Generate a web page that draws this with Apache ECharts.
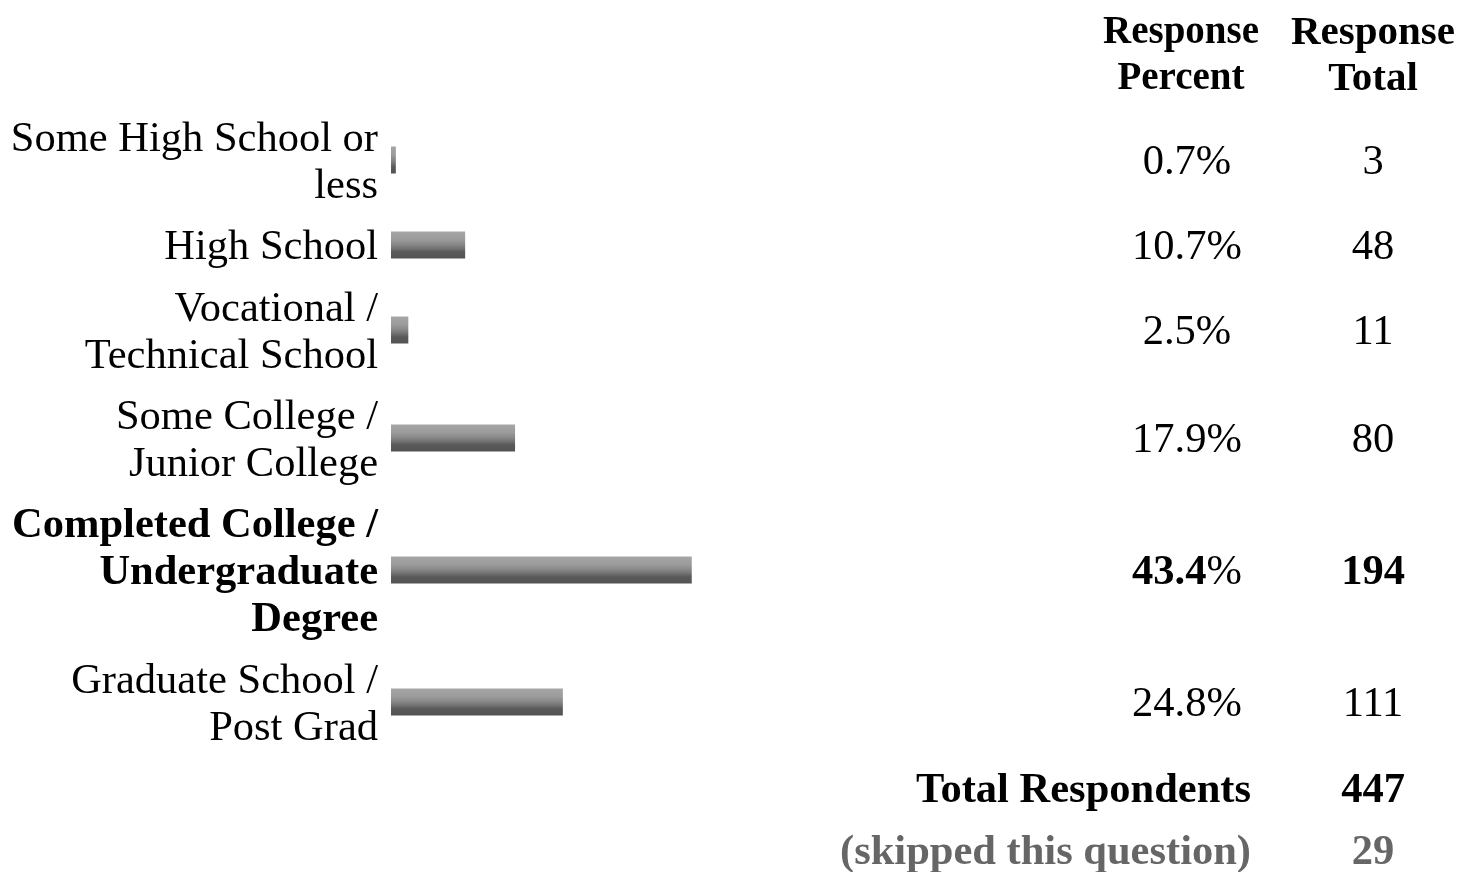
<!DOCTYPE html>
<html>
<head>
<meta charset="utf-8">
<title>Education level</title>
<script src="https://cdn.jsdelivr.net/npm/echarts@6/dist/echarts.min.js"></script>
<style>
  html, body { margin: 0; padding: 0; background: #fff; }
  #chart { width: 1463px; height: 872px; }
</style>
</head>
<body>
<div id="chart"></div>
<script>
// Answer options, shares and counts
const categories = [
  'Some High School or\nless',
  'High School',
  'Vocational /\nTechnical School',
  'Some College /\nJunior College',
  'Completed College /\nUndergraduate\nDegree',
  'Graduate School /\nPost Grad'
];
const percentValues = [0.7, 10.7, 2.5, 17.9, 43.4, 24.8];
const totalValues = [3, 48, 11, 80, 194, 111];
const headerLabels = ['Response\nPercent', 'Response\nTotal'];
const totalRespondents = 447;
const skippedCount = 29;

// The most chosen answer is set in bold
const topIndex = percentValues.indexOf(Math.max(...percentValues));

// Layout: vertical centre of each table row (px)
const rowCenters = [160, 245, 330, 438, 570, 702];
const ROW_H = 60;
const FONT = '"Liberation Serif", "Times New Roman", serif';
const FS = 42.5;
const GRID_LEFT = 391, GRID_RIGHT = 379;     // plot spans 0..100 %
const PCT_X = 1187, TOTAL_X = 1373;          // column centres
const PLOT_RIGHT_X = 1463 - GRID_RIGHT;

const barGradient = {
  type: 'linear', x: 0, y: 0, x2: 0, y2: 1,
  colorStops: [
    { offset: 0, color: '#a6a6a6' },
    { offset: 0.3, color: '#9b9b9b' },
    { offset: 0.5, color: '#868686' },
    { offset: 0.65, color: '#6e6e6e' },
    { offset: 0.75, color: '#5a5a5a' },
    { offset: 1, color: '#535353' }
  ]
};

const rich = {
  n: { fontFamily: FONT, fontSize: FS, color: '#000', lineHeight: 47 },
  b: { fontFamily: FONT, fontSize: FS, fontWeight: 'bold', color: '#000', lineHeight: 47 }
};

function styled(text, bold) {
  const tag = bold ? 'b' : 'n';
  return text.split('\n').map(t => '{' + tag + '|' + t + '}').join('\n');
}

const grids = [], xAxes = [], yAxes = [], series = [];
const hidden = { axisLine: { show: false }, axisTick: { show: false }, splitLine: { show: false } };

categories.forEach((cat, i) => {
  const bold = i === topIndex;
  grids.push({ left: GRID_LEFT, right: GRID_RIGHT, top: rowCenters[i] - ROW_H / 2, height: ROW_H });
  xAxes.push({ gridIndex: i, type: 'value', min: 0, max: 100, show: false });

  // category names on the left
  yAxes.push(Object.assign({
    gridIndex: i, type: 'category', data: [cat], position: 'left',
    axisLabel: {
      margin: 13, align: 'right', interval: 0, rich, padding: [6, 0, 0, 0],
      formatter: v => styled(v, bold)
    }
  }, hidden));
  // percent column
  yAxes.push(Object.assign({
    gridIndex: i, type: 'category', data: [percentValues[i]], position: 'right',
    offset: PCT_X - PLOT_RIGHT_X,
    axisLabel: {
      margin: 0, align: 'center', interval: 0, rich, padding: [6, 0, 0, 0],
      formatter: v => '{' + (bold ? 'b' : 'n') + '|' + Number(v).toFixed(1) + '}{n|%}'
    }
  }, hidden));
  // count column
  yAxes.push(Object.assign({
    gridIndex: i, type: 'category', data: [totalValues[i]], position: 'right',
    offset: TOTAL_X - PLOT_RIGHT_X,
    axisLabel: {
      margin: 0, align: 'center', interval: 0, rich, padding: [6, 0, 0, 0],
      formatter: v => styled(String(v), bold)
    }
  }, hidden));

  series.push({
    type: 'bar', xAxisIndex: i, yAxisIndex: i * 3,
    data: [percentValues[i]], barWidth: 27, barMinHeight: 4,
    itemStyle: { color: barGradient },
    silent: true
  });
});

function textEl(text, x, y, opts) {
  return {
    type: 'text', x, y, silent: true,
    style: Object.assign({
      text, fill: '#000', align: 'center', verticalAlign: 'middle',
      font: 'bold ' + FS + 'px ' + FONT
    }, opts || {})
  };
}

const graphic = [
  textEl(headerLabels[0], 1181, 56, { font: 'bold 39px ' + FONT, lineHeight: 46 }),
  textEl(headerLabels[1], 1373, 56, { font: 'bold 41px ' + FONT, lineHeight: 46 }),
  textEl('Total Respondents', 1251, 791, { align: 'right' }),
  textEl(String(totalRespondents), TOTAL_X, 791),
  textEl('(skipped this question)', 1251, 853, { align: 'right', fill: '#666' }),
  textEl(String(skippedCount), TOTAL_X, 853, { fill: '#666' })
];

const chart = echarts.init(document.getElementById('chart'), null, { renderer: 'canvas' });
chart.setOption({
  animation: false,
  backgroundColor: '#fff',
  grid: grids,
  xAxis: xAxes,
  yAxis: yAxes,
  series,
  graphic
});
</script>
</body>
</html>
